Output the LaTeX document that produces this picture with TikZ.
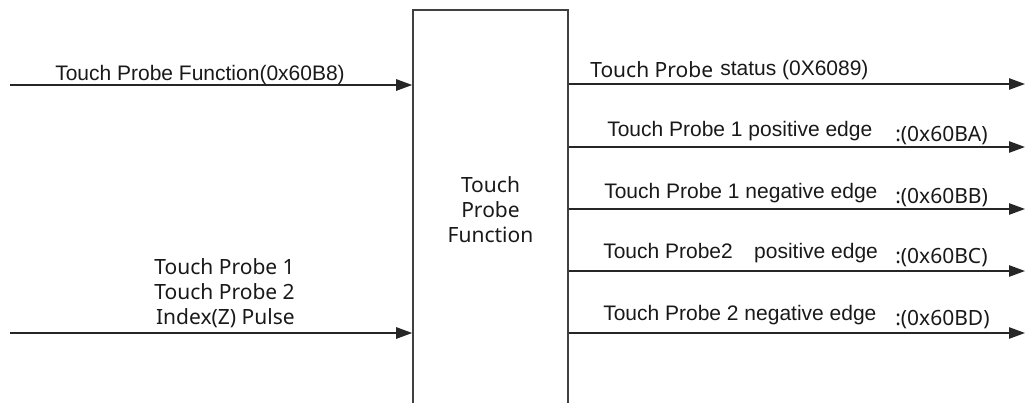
\documentclass[tikz,border=0pt]{standalone}
\usepackage{fontspec}
\setmainfont{Liberation Sans}
\newfontfamily\gothicfont{Noto Sans}
\usetikzlibrary{arrows.meta,positioning}
\tikzstyle{sigarrow} = [draw=black!85, line width=1.15pt, -{Triangle[length=12pt,width=8.5pt]}]
\tikzstyle{blockbox} = [draw=black!75, line width=1.15pt, minimum width=116.25pt, minimum height=300pt, inner sep=0pt]
\tikzstyle{arialtext} = [font=\fontsize{15.75}{18.75}\selectfont, inner sep=0pt, text=black!90]
\tikzstyle{gothictext} = [font=\gothicfont\fontsize{15.75}{18.75}\selectfont, inner sep=0pt, text=black!90]

\begin{document}
\begin{tikzpicture}[x=0.75pt,y=-0.75pt]
    \useasboundingbox (0,0) rectangle (1025,403);
    % block
    \node[blockbox, gothictext, align=center] (probe) at (490.5,210) {Touch\\Probe\\Function};
    % inputs
    \coordinate (in1) at (10,85);
    \coordinate (in2) at (10,333);
    \draw[sigarrow] (in1) -- (in1 -| probe.west);
    \draw[sigarrow] (in2) -- (in2 -| probe.west);
    \node[arialtext, anchor=base west] (fnlabel) at (55,80) {Touch Probe Function(0x60B8)};
    \node[gothictext, align=right, anchor=north east] (srclabel) at (295,258)
        {Touch Probe 1\\Touch Probe 2\\Index(Z) Pulse};
    % outputs
    \foreach \i/\y in {1/84,2/147,3/209,4/271,5/333}{
        \coordinate (out\i) at (1025,\y);
        \draw[sigarrow] (probe.east |- out\i) -- (out\i);
    }
    \node[gothictext, anchor=base west] (stlabel) at (590,78) {Touch Probe};
    \node[arialtext, anchor=base west] (stcode) at (720,75) {status (0X6089)};
    \node[arialtext, anchor=base west] (tpapos) at (607,137) {Touch Probe 1 positive edge};
    \node[gothictext, anchor=base west] (tpaposcode) at (895,142) {:(0x60BA)};
    \node[arialtext, anchor=base west] (tpaneg) at (604,198) {Touch Probe 1 negative edge};
    \node[gothictext, anchor=base west] (tpanegcode) at (895,203) {:(0x60BB)};
    \node[arialtext, anchor=base west] (tpbpos) at (603,258) {Touch Probe2\hspace{16pt}positive edge};
    \node[gothictext, anchor=base west] (tpbposcode) at (895,263) {:(0x60BC)};
    \node[arialtext, anchor=base west] (tpbneg) at (603,320) {Touch Probe 2 negative edge};
    \node[gothictext, anchor=base west] (tpbnegcode) at (895,325) {:(0x60BD)};
\end{tikzpicture}
\end{document}
